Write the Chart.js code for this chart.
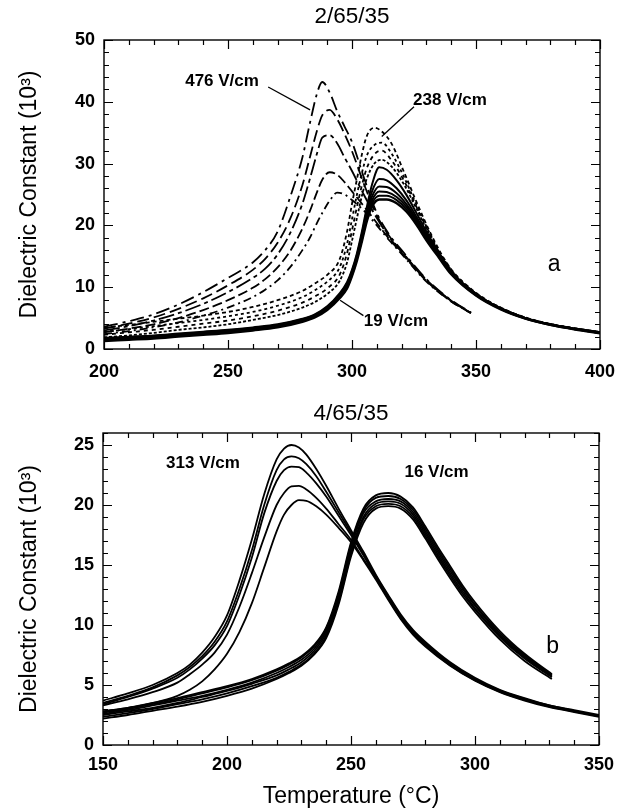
<!DOCTYPE html>
<html><head><meta charset="utf-8">
<script src="https://cdn.jsdelivr.net/npm/chart.js@4.4.1/dist/chart.umd.min.js"></script>
<style>
html,body{margin:0;padding:0;background:#fff;}
canvas{position:absolute;left:0;}
#ca{top:0;}
#cb{top:400px;}
</style></head><body>
<canvas id="ca" width="628" height="400" style="width:628px;height:400px"></canvas>
<canvas id="cb" width="628" height="410" style="width:628px;height:410px"></canvas>
<script>
// ---------- Panel a : 2/65/35 ----------
const A_TITLE = '2/65/35';
const A_X_TICKS = [200, 250, 300, 350, 400];
const A_Y_TICKS = [0, 10, 20, 30, 40, 50];
// dash-dot curves (high fields, up to 476 V/cm)
const A_T_DASH = [200,210,220,230,240,250,260,265,270,275,280,283,286,288,291,294,297,300,305,310,315,320,330,340,348];
const A_DASH1 = [3.6,4.5,5.6,7.2,9.2,11.5,14.0,16.0,19.0,24.5,31.0,36.5,41.5,43.2,41.5,38.5,36.0,33.5,27.5,22.0,18.5,16.0,11.3,7.9,5.9];
const A_DASH2 = [3.3,4.1,5.1,6.5,8.2,10.3,12.8,14.6,17.2,21.0,26.5,31.0,35.5,37.8,38.7,37.2,34.8,32.0,26.5,21.6,18.3,15.8,11.2,7.8,5.85];
const A_DASH3 = [3.0,3.7,4.6,5.8,7.3,9.2,11.5,13.0,15.3,18.7,23.5,27.5,31.8,34.2,34.6,33.3,31.0,28.8,24.8,21.2,18.1,15.7,11.1,7.8,5.8];
const A_DASH4 = [2.7,3.3,4.0,5.0,6.3,7.9,9.9,11.3,13.2,15.8,19.5,22.3,25.5,27.4,28.6,28.2,27.0,25.5,23.0,20.4,17.8,15.5,11.0,7.7,5.8];
const A_DASH5 = [2.4,2.9,3.5,4.3,5.4,6.7,8.4,9.6,11.1,13.2,16.0,18.0,20.5,22.0,24.0,25.3,25.0,24.1,22.3,20.0,17.6,15.4,10.9,7.7,5.8];
// short-dash curves (intermediate fields, up to 238 V/cm)
const A_T_DOT = [200,210,220,230,240,250,260,270,280,285,290,295,298,300,302,304,306,309,312,316,321,326,331,336,340,350,360,370,380,390,400];
const A_DOT1 = [3.4,3.9,4.4,4.9,5.4,6.0,6.8,7.9,9.4,10.6,12.0,14.5,19.0,23.5,27.5,31.5,34.5,35.8,35.2,33.2,28.6,23.8,19.3,15.4,12.9,9.1,6.7,5.1,4.05,3.35,2.75];
const A_DOT2 = [2.8,3.2,3.7,4.2,4.7,5.3,6.0,7.0,8.4,9.5,10.9,13.2,17.0,21.0,25.0,28.5,31.3,33.0,33.4,31.6,27.8,23.3,19.0,15.2,12.8,9.0,6.65,5.05,4.0,3.3,2.7];
const A_DOT3 = [2.3,2.7,3.1,3.6,4.1,4.6,5.3,6.2,7.5,8.5,9.8,12.0,15.5,19.2,23.0,26.5,29.3,31.5,32.1,30.5,27.2,23.0,18.8,15.0,12.7,8.95,6.6,5.0,4.0,3.3,2.7];
const A_DOT4 = [1.9,2.2,2.6,3.1,3.5,4.0,4.7,5.5,6.7,7.6,8.9,11.0,14.0,17.5,21.2,24.8,27.6,30.0,30.6,29.5,26.6,22.7,18.6,14.9,12.6,8.9,6.6,5.0,4.0,3.3,2.7];
// solid curves (low fields, down to 19 V/cm)
const A_T_SOLID = [200,210,220,230,240,250,260,270,280,285,290,295,298,300,302,304,306,308,311,314,318,322,326,330,335,340,350,360,370,380,390,400];
const A_SOLID1 = [1.8,2.0,2.2,2.5,2.8,3.1,3.5,4.0,4.9,5.6,6.9,9.0,10.8,12.8,15.5,19.0,23.0,26.5,29.4,29.0,27.3,24.9,22.0,19.0,15.6,12.6,8.9,6.6,5.0,4.0,3.3,2.7];
const A_SOLID2 = [1.7,1.9,2.1,2.4,2.7,3.0,3.4,3.9,4.8,5.5,6.8,8.8,10.6,12.6,15.2,18.6,22.4,25.4,27.5,27.3,26.0,24.0,21.4,18.6,15.4,12.5,8.85,6.55,5.0,4.0,3.25,2.65];
const A_SOLID3 = [1.6,1.8,2.0,2.3,2.6,2.9,3.3,3.8,4.7,5.4,6.7,8.7,10.4,12.4,15.0,18.3,21.9,24.6,26.3,26.2,25.2,23.4,21.0,18.3,15.2,12.4,8.8,6.5,4.95,3.95,3.25,2.65];
const A_SOLID4 = [1.5,1.7,1.9,2.2,2.5,2.8,3.2,3.7,4.6,5.3,6.6,8.5,10.2,12.2,14.8,18.0,21.5,24.0,25.5,25.4,24.6,23.0,20.7,18.1,15.1,12.3,8.75,6.5,4.95,3.95,3.2,2.6];
const A_SOLID5 = [1.4,1.6,1.8,2.1,2.4,2.7,3.1,3.6,4.5,5.2,6.5,8.4,10.0,12.0,14.6,17.7,21.1,23.5,24.8,24.8,24.1,22.6,20.4,17.9,15.0,12.2,8.7,6.45,4.9,3.9,3.2,2.6];
const A_SOLID6 = [1.3,1.5,1.7,2.0,2.3,2.6,3.0,3.5,4.4,5.1,6.3,8.2,9.8,11.8,14.3,17.4,20.7,23.0,24.2,24.2,23.6,22.2,20.1,17.6,14.8,12.1,8.65,6.4,4.9,3.9,3.15,2.55];
// labels and leader lines (data coordinates)
const A_LABELS = [
  {text:'476 V/cm', x:247.6, y:43.3},
  {text:'238 V/cm', x:339.5, y:40.3},
  {text:'19 V/cm',  x:317.7, y:4.4},
  {text:'a', x:381.5, y:13.6, big:true}
];
const A_LEADERS = [
  [[266.2,42.4],[283.1,38.7]],
  [[325.0,39.2],[312.0,34.4]],
  [[304.6,5.4],[295.2,7.9]]
];

// ---------- Panel b : 4/65/35 ----------
const B_TITLE = '4/65/35';
const B_X_TICKS = [150, 200, 250, 300, 350];
const B_Y_TICKS = [0, 5, 10, 15, 20, 25];
// high field curves (313 V/cm group)
const B_T_HIGH = [150,160,170,180,185,190,195,200,205,210,215,220,223,226,229,232,236,240,245,250,255,260,265,270,275,280,290,300,310,320,330,340,350];
const B_HIGH1 = [3.7,4.3,5.0,6.0,6.7,7.7,9.0,10.8,13.7,17.1,20.9,23.8,24.7,25.0,24.8,24.2,23.0,21.6,19.7,17.9,16.1,14.2,12.5,10.9,9.6,8.6,6.9,5.6,4.6,3.9,3.3,2.9,2.5];
const B_HIGH2 = [3.5,4.1,4.8,5.8,6.5,7.4,8.6,10.3,13.0,16.2,20.0,22.9,23.8,24.05,23.9,23.4,22.4,21.1,19.4,17.7,15.9,14.1,12.4,10.8,9.5,8.5,6.8,5.5,4.55,3.85,3.3,2.85,2.45];
const B_HIGH3 = [3.4,4.0,4.7,5.6,6.3,7.2,8.3,9.9,12.5,15.6,19.3,22.0,22.9,23.2,23.15,22.7,21.8,20.7,19.1,17.5,15.8,14.0,12.3,10.7,9.4,8.4,6.7,5.45,4.5,3.8,3.25,2.8,2.4];
const B_HIGH4 = [3.3,3.8,4.4,5.2,5.9,6.7,7.7,9.2,11.5,14.3,17.3,20.0,21.0,21.55,21.6,21.3,20.6,19.7,18.4,17.1,15.5,13.9,12.2,10.6,9.3,8.3,6.65,5.4,4.45,3.75,3.2,2.8,2.4];
const B_HIGH5 = [2.8,3.1,3.5,4.1,4.6,5.3,6.3,7.6,9.4,11.8,14.8,17.8,19.2,20.0,20.4,20.35,19.9,19.2,18.1,16.9,15.4,13.8,12.1,10.5,9.2,8.2,6.6,5.35,4.4,3.7,3.15,2.75,2.35];
// low field curves (16 V/cm group)
const B_T_LOW = [150,160,170,180,190,200,210,220,225,230,235,240,245,250,255,260,265,270,275,280,285,290,295,300,310,320,331];
const B_LOW1 = [2.8,3.1,3.5,3.9,4.4,4.9,5.5,6.3,6.8,7.4,8.3,9.8,12.8,16.9,19.7,20.8,21.0,20.7,19.8,18.2,16.5,14.9,13.3,11.9,9.5,7.6,5.9];
const B_LOW2 = [2.7,3.0,3.4,3.8,4.3,4.8,5.4,6.2,6.7,7.3,8.2,9.7,12.6,16.7,19.5,20.6,20.75,20.5,19.6,18.0,16.3,14.7,13.1,11.7,9.35,7.5,5.85];
const B_LOW3 = [2.6,2.9,3.3,3.7,4.1,4.6,5.2,6.0,6.5,7.1,8.0,9.5,12.3,16.4,19.3,20.3,20.5,20.3,19.4,17.8,16.1,14.5,13.0,11.6,9.2,7.4,5.8];
const B_LOW4 = [2.5,2.8,3.1,3.5,4.0,4.5,5.1,5.8,6.3,6.9,7.8,9.3,12.1,16.1,19.0,20.1,20.3,20.1,19.2,17.6,15.9,14.3,12.8,11.4,9.1,7.3,5.7];
const B_LOW5 = [2.35,2.65,3.0,3.4,3.8,4.3,4.9,5.6,6.1,6.7,7.6,9.1,11.9,15.9,18.8,19.9,20.1,19.9,19.0,17.4,15.7,14.1,12.6,11.3,9.0,7.2,5.65];
const B_LOW6 = [2.2,2.5,2.85,3.2,3.6,4.1,4.7,5.5,6.0,6.6,7.5,8.9,11.7,15.7,18.5,19.7,19.9,19.7,18.8,17.2,15.5,13.9,12.4,11.1,8.8,7.0,5.5];
const B_LABELS = [
  {text:'313 V/cm', x:190.3, y:23.5},
  {text:'16 V/cm', x:284.5, y:22.7},
  {text:'b', x:331.3, y:8.2, big:true}
];

// ---------- helpers ----------
const FONT = "'Liberation Sans', Arial, Helvetica, sans-serif";
function pts(T, V){ return T.map((t,i)=>({x:t, y:V[i]})); }
function curve(T, V, dash, w){
  return {data: pts(T,V), borderColor:'#000', borderWidth: w || 1.8, borderDash: dash || [],
          pointRadius:0, fill:false, cubicInterpolationMode:'monotone', borderCapStyle:'butt'};
}
function leader(seg){
  return {data: seg.map(p=>({x:p[0], y:p[1]})), borderColor:'#000', borderWidth:1.3, pointRadius:0, fill:false};
}

const frameTicks = {
  id:'frameTicks',
  afterDatasetsDraw(chart, args, o){
    const {ctx, chartArea:a, scales:{x, y}} = chart;
    ctx.save();
    ctx.strokeStyle='#000';
    ctx.lineWidth=1.4;
    ctx.strokeRect(a.left, a.top, a.right-a.left, a.bottom-a.top);
    ctx.lineWidth=1.2;
    ctx.beginPath();
    const n1 = Math.round((x.max-x.min)/o.xMinor);
    for(let i=0;i<=n1;i++){
      const v = x.min + i*o.xMinor;
      const px = Math.round(x.getPixelForValue(v))+0.5;
      const major = (i % Math.round(o.xMajor/o.xMinor))===0;
      const len = major?9:5;
      ctx.moveTo(px, a.bottom); ctx.lineTo(px, a.bottom-len);
      ctx.moveTo(px, a.top); ctx.lineTo(px, a.top+len);
    }
    const n2 = Math.round((y.max-y.min)/o.yMinor);
    for(let i=0;i<=n2;i++){
      const v = y.min + i*o.yMinor;
      const py = Math.round(y.getPixelForValue(v))+0.5;
      const major = (i % Math.round(o.yMajor/o.yMinor))===0;
      const len = major?9:5;
      ctx.moveTo(a.left, py); ctx.lineTo(a.left+len, py);
      ctx.moveTo(a.right, py); ctx.lineTo(a.right-len, py);
    }
    ctx.stroke();
    ctx.restore();
  }
};
const textLabels = {
  id:'textLabels',
  afterDatasetsDraw(chart, args, o){
    const {ctx, scales:{x, y}} = chart;
    ctx.save();
    ctx.fillStyle='#000'; ctx.textAlign='center'; ctx.textBaseline='middle';
    for(const l of o.items){
      ctx.font = l.big ? ("23px " + FONT) : ("bold 17px " + FONT);
      ctx.fillText(l.text, x.getPixelForValue(l.x), y.getPixelForValue(l.y));
    }
    ctx.restore();
  }
};

function makeOptions(p){
  return {
    responsive:false, animation:false,
    layout:{padding:{left:0, right:p.right, top:0, bottom:0}},
    plugins:{
      legend:{display:false}, tooltip:{enabled:false},
      title:{display:true, fullSize:false, text:p.title, color:'#000', font:{family:FONT, size:22.5, weight:'normal'},
             padding:{top:p.titleTop, bottom:p.titleBottom}},
      frameTicks:{xMajor:50, xMinor:10, yMajor:p.yMajor, yMinor:p.yMinor},
      textLabels:{items:p.labels}
    },
    scales:{
      x:{type:'linear', min:p.xMin, max:p.xMax,
         afterBuildTicks(s){ s.ticks = p.xTicks.map(v=>({value:v})); },
         afterFit(s){ s.height = p.xHeight; },
         grid:{display:false, drawTicks:false}, border:{display:false},
         ticks:{color:'#000', padding:p.xPad, autoSkip:false, maxRotation:0, font:{family:FONT, size:18, weight:'bold'}},
         title:{display:!!p.xTitle, text:p.xTitle||'', color:'#000', font:{family:FONT, size:23, weight:'normal'}, padding:{top:0,bottom:0}}
      },
      y:{type:'linear', min:p.yMin, max:p.yMax,
         afterBuildTicks(s){ s.ticks = p.yTicks.map(v=>({value:v})); },
         afterFit(s){ s.width = p.yWidth; },
         grid:{display:false, drawTicks:false}, border:{display:false},
         ticks:{color:'#000', padding:9, autoSkip:false, font:{family:FONT, size:18, weight:'bold'}},
         title:{display:true, text:'Dielectric Constant (10\u00B3)', color:'#000', font:{family:FONT, size:23, weight:'normal'}, padding:{top:16,bottom:0}}
      }
    }
  };
}

const dsA = [
  curve(A_T_SOLID, A_SOLID1, [], 2), curve(A_T_SOLID, A_SOLID2, [], 2), curve(A_T_SOLID, A_SOLID3, [], 2),
  curve(A_T_SOLID, A_SOLID4, [], 2), curve(A_T_SOLID, A_SOLID5, [], 2), curve(A_T_SOLID, A_SOLID6, [], 2.4),
  curve(A_T_DOT, A_DOT1, [4,3], 1.8), curve(A_T_DOT, A_DOT2, [3,3], 1.8),
  curve(A_T_DOT, A_DOT3, [4,4], 1.8), curve(A_T_DOT, A_DOT4, [3,2], 1.8),
  curve(A_T_DASH, A_DASH1, [14,5,3,5], 1.8), curve(A_T_DASH, A_DASH2, [12,5], 1.8),
  curve(A_T_DASH, A_DASH3, [16,4,4,4], 1.8), curve(A_T_DASH, A_DASH4, [10,4], 1.8),
  curve(A_T_DASH, A_DASH5, [8,4,2,4], 1.8)
].concat(A_LEADERS.map(leader));

new Chart(document.getElementById('ca'), {
  type:'line',
  data:{datasets: dsA},
  options: makeOptions({title:A_TITLE, titleTop:3.5, titleBottom:9.5, right:28,
    xMin:200, xMax:400, yMin:0, yMax:50, xTicks:A_X_TICKS, yTicks:A_Y_TICKS,
    xHeight:51, yWidth:104, xPad:12, yMajor:10, yMinor:2, labels:A_LABELS}),
  plugins:[frameTicks, textLabels]
});

const dsB = [
  curve(B_T_LOW, B_LOW1), curve(B_T_LOW, B_LOW2), curve(B_T_LOW, B_LOW3),
  curve(B_T_LOW, B_LOW4), curve(B_T_LOW, B_LOW5), curve(B_T_LOW, B_LOW6),
  curve(B_T_HIGH, B_HIGH1), curve(B_T_HIGH, B_HIGH2), curve(B_T_HIGH, B_HIGH3),
  curve(B_T_HIGH, B_HIGH4), curve(B_T_HIGH, B_HIGH5)
];

new Chart(document.getElementById('cb'), {
  type:'line',
  data:{datasets: dsB},
  options: makeOptions({title:B_TITLE, titleTop:0, titleBottom:6, right:29,
    xMin:150, xMax:350, yMin:0, yMax:26, xTicks:B_X_TICKS, yTicks:B_Y_TICKS,
    xHeight:65, yWidth:103, xPad:9, yMajor:5, yMinor:1, labels:B_LABELS, xTitle:'Temperature (\u00B0C)'}),
  plugins:[frameTicks, textLabels]
});
</script></body></html>
